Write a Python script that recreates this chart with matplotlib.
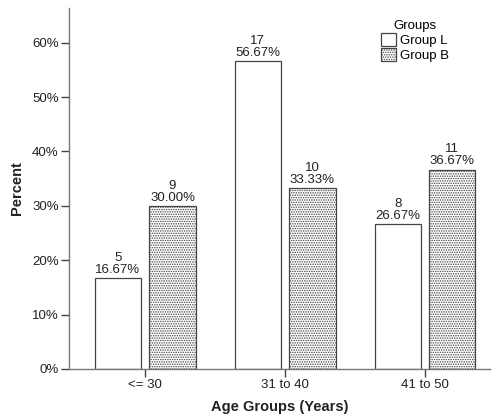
import matplotlib.pyplot as plt
import numpy as np

plt.rcParams['font.family'] = ['Liberation Sans', 'DejaVu Sans']
plt.rcParams['hatch.color'] = '#333333'
plt.rcParams['hatch.linewidth'] = 0.7

categories = ['<= 30', '31 to 40', '41 to 50']
group_l_count = [5, 17, 8]
group_l_pct = [16.67, 56.67, 26.67]
group_b_count = [9, 10, 11]
group_b_pct = [30.00, 33.33, 36.67]

fig = plt.figure(figsize=(4.98, 4.16), dpi=100)
ax = fig.add_axes([0.139, 0.113, 0.845, 0.868])

x = np.arange(len(categories))
w = 0.33
off = 0.195
edge = '#444444'

bars_l = ax.bar(x - off, group_l_pct, w, color='white', edgecolor=edge, linewidth=0.9, label='Group L')
bars_b = ax.bar(x + off, group_b_pct, w, color='white', edgecolor=edge, linewidth=0.9,
                hatch='.......', label='Group B')

for bars, counts, pcts in [(bars_l, group_l_count, group_l_pct), (bars_b, group_b_count, group_b_pct)]:
    for b, c, p in zip(bars, counts, pcts):
        ax.text(b.get_x() + b.get_width() / 2, p + 0.4, f"{c}\n{p:.2f}%",
                ha='center', va='bottom', fontsize=9.5, color='#222222', linespacing=1.0)

ax.set_xlim(-0.543, 2.464)
ax.set_ylim(0, 66.4)
ax.set_xticks(x)
ax.set_xticklabels(categories, fontsize=9.5, color='#222222')
ax.set_yticks(np.arange(0, 61, 10))
ax.set_yticklabels([f"{v}%" for v in range(0, 61, 10)], fontsize=9.5, color='#222222')
ax.tick_params(axis='both', color='#444444', length=6, width=1, pad=1.5)

for s in ['top', 'right']:
    ax.spines[s].set_visible(False)
for s in ['left', 'bottom']:
    ax.spines[s].set_color('#777777')
    ax.spines[s].set_linewidth(1.0)

ax.set_xlabel('Age Groups (Years)', fontsize=10.5, fontweight='bold', color='#222222', labelpad=6)
ax.set_ylabel('Percent', fontsize=10.5, fontweight='bold', color='#222222', labelpad=6)

leg = ax.legend(title='Groups', loc='upper right', bbox_to_anchor=(0.93, 1.0), frameon=False,
                fontsize=9.5, title_fontsize=9.5, handlelength=1.1, handleheight=1.1,
                handletextpad=0.3, labelspacing=0.1)

plt.savefig('out.png', dpi=100)
